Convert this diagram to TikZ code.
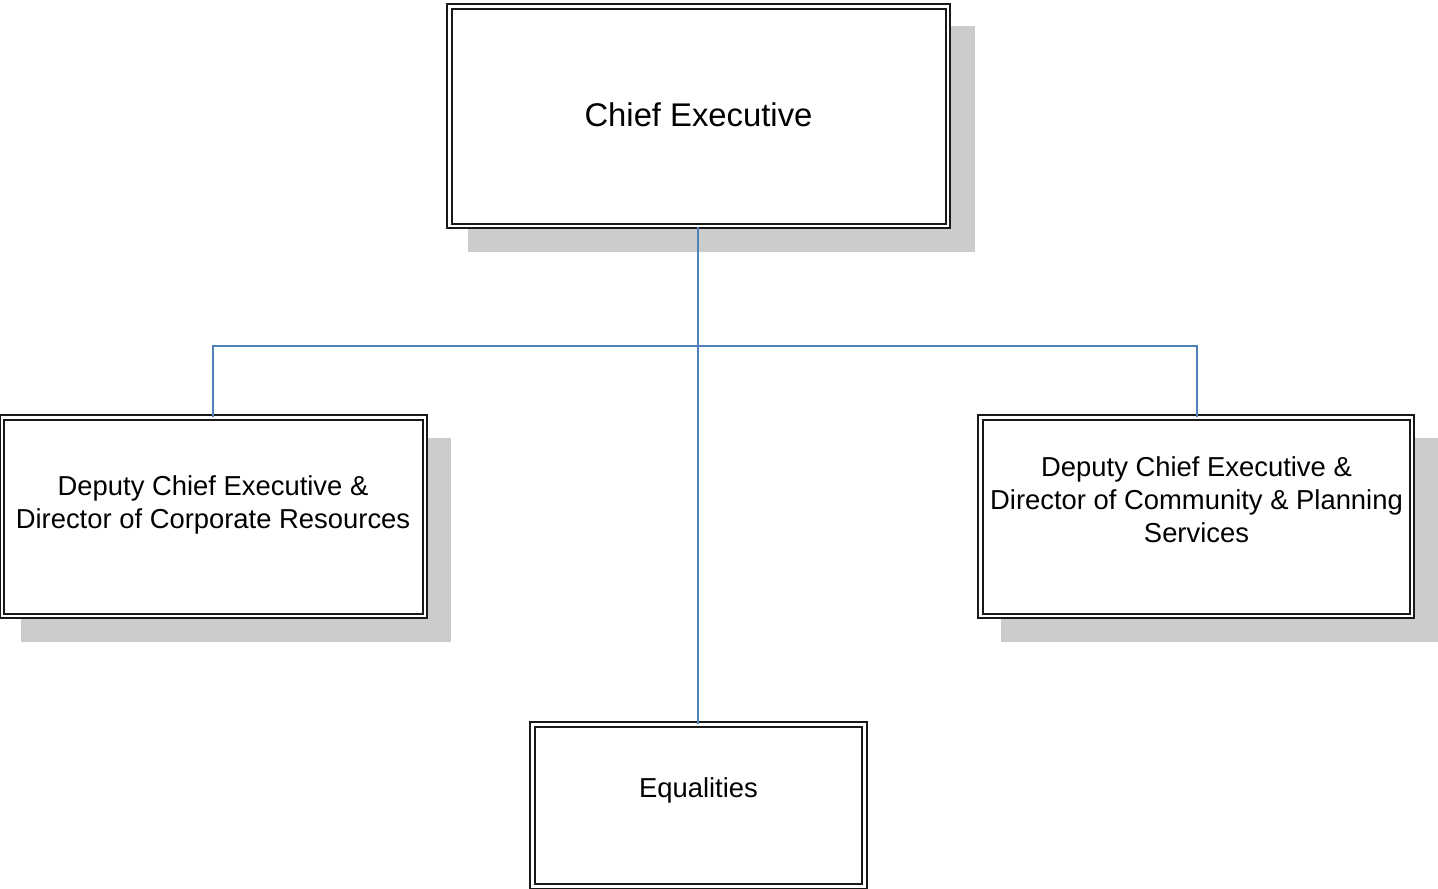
\documentclass[tikz,border=0pt]{standalone}
\usepackage{fontspec}
\setmainfont{Liberation Sans}
\definecolor{shadowgray}{HTML}{CCCCCC}
\definecolor{linkblue}{HTML}{4F81BD}
\begin{document}
\begin{tikzpicture}[x=1pt,y=-1pt,
  orgbox/.style={draw=black!90, line width=1.8pt, double=white, double distance=2.7pt, fill=white, rectangle, inner sep=0pt},
  boxtext/.style={align=center, font=\fontsize{27.4}{33}\selectfont, inner sep=0pt},
  link/.style={draw=linkblue, line width=2pt}]
\useasboundingbox (0,0) rectangle (1438,889);
% shadows
\fill[shadowgray] (468,26) rectangle (975,252);
\fill[shadowgray] (21,438) rectangle (451,642);
\fill[shadowgray] (1001,438) rectangle (1438,642);
% boxes
\node[orgbox, minimum width=498.5pt, minimum height=219.5pt] (ceo) at (698.75,116.25) {};
\node[orgbox, minimum width=423pt, minimum height=198.5pt] (dcr) at (213.5,516.75) {};
\node[orgbox, minimum width=431.5pt, minimum height=198.5pt] (dcp) at (1196.25,516.75) {};
\node[orgbox, minimum width=332pt, minimum height=162pt] (eq) at (698.5,805.5) {};
% texts
\node[boxtext, font=\fontsize{32.8}{39}\selectfont] (ceot) at (698.5,114.5) {Chief Executive};
\node[boxtext] (dcrt) at (213,504.5) {Deputy Chief Executive \&\\Director of Corporate Resources};
\node[boxtext] (dcpt) at (1196.5,499.5) {Deputy Chief Executive \&\\Director of Community \& Planning\\Services};
\node[boxtext] (eqt) at (698.5,790.5) {Equalities};
% connectors
\coordinate (j) at (698,346);
\coordinate (jl) at (213,346);
\coordinate (jr) at (1197,346);
\draw[link] (ceo.south -| j) -- (eq.north -| j);
\draw[link] (dcr.north -| jl) -- (jl) -- (jr) -- (dcp.north -| jr);
\end{tikzpicture}
\end{document}
